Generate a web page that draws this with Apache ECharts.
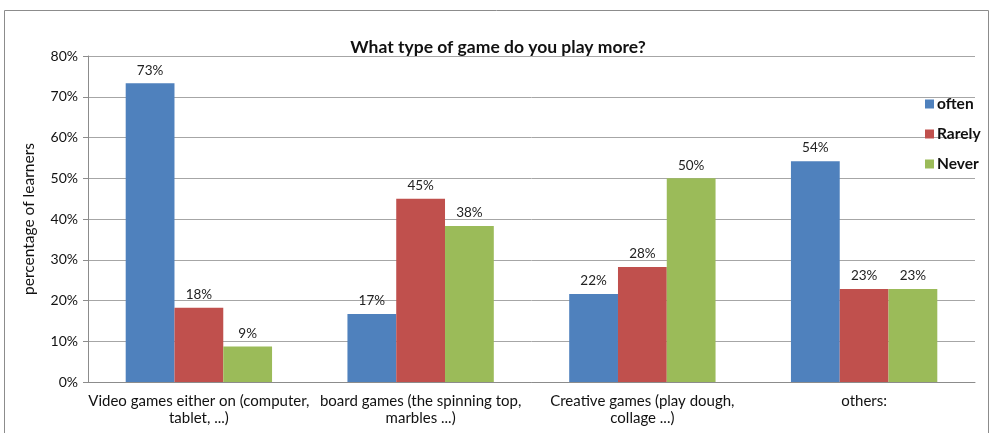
<!DOCTYPE html>
<html>
<head>
<meta charset="utf-8">
<script src="https://cdn.jsdelivr.net/npm/echarts@6/dist/echarts.min.js"></script>
<style>
  html, body { margin: 0; padding: 0; background: #ffffff; }
  #main { width: 992px; height: 433px; }
</style>
</head>
<body>
<div id="main"></div>
<script>
// categories and values (percent)
var categories = ['Video games either on (computer,\ntablet, ...)',
                  'board games (the spinning top,\nmarbles ...)',
                  'Creative games (play dough,\ncollage ...)',
                  'others:'];
var often  = [73.3, 16.7, 21.6, 54.2];
var rarely = [18.2, 45.0, 28.2, 22.8];
var never  = [8.7, 38.3, 50.0, 22.8];
var yTicks = [0, 10, 20, 30, 40, 50, 60, 70, 80];

var chart = echarts.init(document.getElementById('main'));
var font = 'Lato, "Open Sans", sans-serif';

function mkSeries(name, data, color) {
    return {
        name: name,
        type: 'bar',
        data: data,
        barGap: '0%',
        barCategoryGap: '34%',
        itemStyle: { color: color },
        label: {
            show: true,
            position: 'top',
            distance: 6,
            color: '#222',
            fontFamily: font,
            fontSize: 13.5,
            formatter: function (p) { return Math.round(p.value) + '%'; }
        }
    };
}

var option = {
    backgroundColor: '#ffffff',
    animation: false,
    graphic: [{
        type: 'rect',
        shape: { x: 4.5, y: 10.5, width: 984, height: 430 },
        style: { fill: 'none', stroke: '#8c8c8c', lineWidth: 1 }
    }],
    title: {
        text: 'What type of game do you play more?',
        left: 493,
        textAlign: 'center',
        top: 33,
        textStyle: { fontFamily: font, fontSize: 17.5, fontWeight: 'bold', color: '#111' }
    },
    legend: {
        orient: 'vertical',
        left: 920,
        top: 91,
        itemWidth: 9,
        itemHeight: 9,
        itemGap: 14,
        icon: 'rect',
        textStyle: { fontFamily: font, fontSize: 15.5, fontWeight: 'bold', color: '#111', padding: [0, 0, 0, -2] },
        data: ['often', 'Rarely', 'Never']
    },
    grid: { left: 88, right: 17, top: 56, bottom: 51 },
    xAxis: {
        type: 'category',
        data: categories,
        axisTick: { show: false },
        axisLine: { lineStyle: { color: '#8c8c8c' } },
        axisLabel: {
            interval: 0,
            margin: 11,
            lineHeight: 17,
            fontFamily: font,
            fontSize: 15,
            color: '#111'
        }
    },
    yAxis: {
        type: 'value',
        min: yTicks[0],
        max: yTicks[yTicks.length - 1],
        interval: 10,
        name: 'percentage of learners',
        nameLocation: 'middle',
        nameGap: 51,
        nameTextStyle: { fontFamily: font, fontSize: 15.5, color: '#111' },
        axisLine: { show: true, lineStyle: { color: '#8c8c8c' } },
        axisTick: { show: true, inside: false, length: 5, lineStyle: { color: '#8c8c8c' } },
        splitLine: { lineStyle: { color: '#a6a6a6' } },
        axisLabel: {
            margin: 10,
            fontFamily: font,
            fontSize: 14,
            color: '#111',
            formatter: '{value}%'
        }
    },
    series: [
        mkSeries('often', often, '#4f81bd'),
        mkSeries('Rarely', rarely, '#c0504d'),
        mkSeries('Never', never, '#9bbb59')
    ]
};
chart.setOption(option);
</script>
</body>
</html>
